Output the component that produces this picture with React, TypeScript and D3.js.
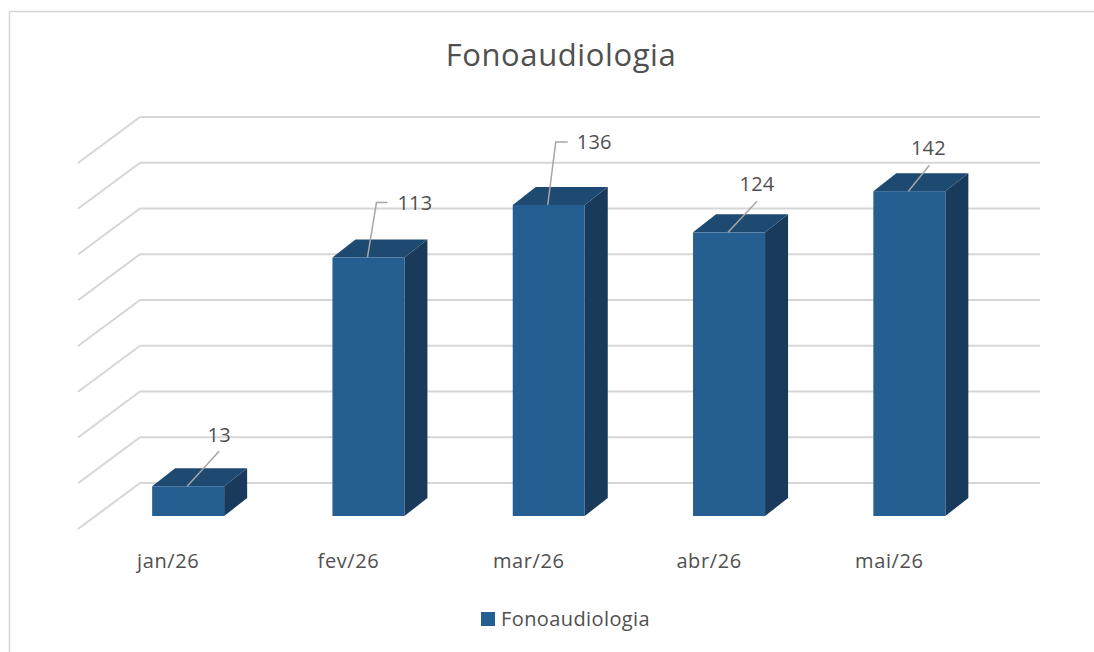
import React from "react";
import * as d3 from "d3";

const categories = ["jan/26", "fev/26", "mar/26", "abr/26", "mai/26"];
const values = [13, 113, 136, 124, 142];
const seriesName = "Fonoaudiologia";
const ticks = [0, 20, 40, 60, 80, 100, 120, 140, 160];

// leader-line layout (offsets from bar front-top centre): end dx, end dy, elbow length, label placement
const labelLayout = [
  { dx: 31, dy: -35, elbow: 0, tx: 31, ty: -44, anchor: "middle" },
  { dx: 8, dy: -55, elbow: 11, tx: 29, ty: -48, anchor: "start" },
  { dx: 7, dy: -63, elbow: 12, tx: 28, ty: -56, anchor: "start" },
  { dx: 28, dy: -31, elbow: 0, tx: 28, ty: -41, anchor: "middle" },
  { dx: 20, dy: -26, elbow: 0, tx: 19, ty: -36, anchor: "middle" },
];

const W = 1094;
const H = 652;
const FONT = "'Open Sans', 'Noto Sans', sans-serif";
const TXT = "#505050";
const GRID = "#d6d6d6";

export default function App() {
  const x = d3.scaleBand<string>().domain(categories).range([98, 98 + 5 * 180.3]);
  const barW = 72;
  const depthX = 23;
  const depthY = -18;
  const yFront = d3.scaleLinear().domain([0, 160]).range([516, 150]);
  const yBack = d3.scaleLinear().domain([0, 160]).range([483, 117]);
  const wallLeft = 140;
  const wallRight = 1040;
  const sideDX = -62;
  const sideDY = 46;

  return (
    <svg
      width={W}
      height={H}
      style={{ position: "absolute", left: 0, top: 0, background: "#fff" }}
      fontFamily={FONT}
    >
      <rect x={0} y={0} width={W} height={H} fill="#fff" />
      {/* outer chart border */}
      <rect x={9.5} y={11.5} width={W + 20} height={H + 20} fill="none" stroke={GRID} strokeWidth={1.5} />

      <text x={561} y={66} textAnchor="middle" fontSize={31} letterSpacing={0.6} fill={TXT}>
        {seriesName}
      </text>

      {/* gridlines: back wall + side wall */}
      {ticks.map((t) => (
        <g key={t}>
          <line x1={wallLeft} x2={wallRight} y1={yBack(t)} y2={yBack(t)} stroke={GRID} strokeWidth={2} />
          <line
            x1={wallLeft}
            y1={yBack(t)}
            x2={wallLeft + sideDX}
            y2={yBack(t) + sideDY}
            stroke={GRID}
            strokeWidth={2}
          />
        </g>
      ))}

      {/* bars */}
      {categories.map((c, i) => {
        const x0 = (x(c) as number) + (x.bandwidth() - barW) / 2;
        const y0 = yFront(0);
        const yt = yFront(values[i]);
        const top = [
          [x0, yt],
          [x0 + depthX, yt + depthY],
          [x0 + barW + depthX, yt + depthY],
          [x0 + barW, yt],
        ];
        const side = [
          [x0 + barW, yt],
          [x0 + barW + depthX, yt + depthY],
          [x0 + barW + depthX, y0 + depthY],
          [x0 + barW, y0],
        ];
        return (
          <g key={c}>
            <polygon points={side.map((p) => p.join(",")).join(" ")} fill="#193a5b" />
            <polygon points={top.map((p) => p.join(",")).join(" ")} fill="#1e4a72" />
            <rect x={x0} y={yt} width={barW} height={y0 - yt} fill="#255e91" />
          </g>
        );
      })}

      {/* data labels with leader lines */}
      {categories.map((c, i) => {
        const cx = (x(c) as number) + x.bandwidth() / 2;
        const yt = yFront(values[i]);
        const L = labelLayout[i];
        const pts: [number, number][] = [
          [cx - 1, yt],
          [cx + L.dx, yt + L.dy],
        ];
        if (L.elbow) pts.push([cx + L.dx + L.elbow, yt + L.dy]);
        return (
          <g key={"l" + c}>
            <path d={d3.line()(pts) as string} fill="none" stroke="#a6a6a6" strokeWidth={1.5} />
            <text
              x={cx + L.tx}
              y={yt + L.ty}
              textAnchor={L.anchor as any}
              fontSize={20}
              letterSpacing={0.2}
              fill={TXT}
            >
              {values[i]}
            </text>
          </g>
        );
      })}

      {/* category labels */}
      {categories.map((c) => (
        <text
          key={"c" + c}
          x={(x(c) as number) + x.bandwidth() / 2 - 20}
          y={568}
          textAnchor="middle"
          fontSize={20}
          letterSpacing={0.6}
          fill={TXT}
        >
          {c}
        </text>
      ))}

      {/* legend */}
      <rect x={481} y={612} width={14} height={14} fill="#255e91" />
      <text x={501} y={626} fontSize={20} letterSpacing={0.4} fill={TXT}>
        {seriesName}
      </text>
    </svg>
  );
}
